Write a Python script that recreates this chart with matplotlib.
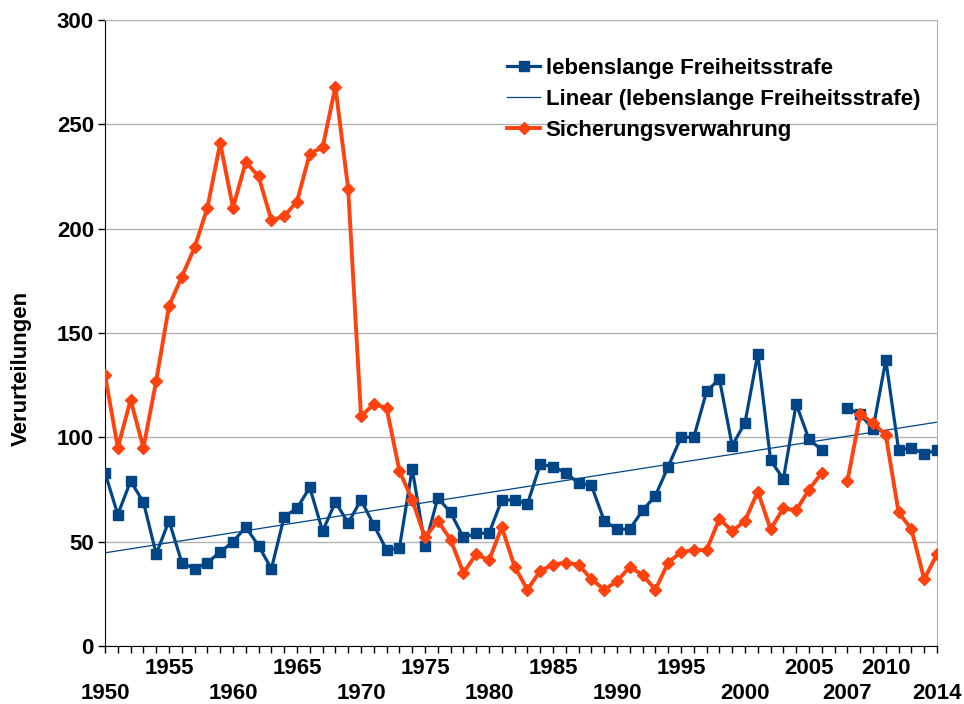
import numpy as np
import matplotlib
matplotlib.use('Agg')
import matplotlib.pyplot as plt

plt.rcParams['font.family'] = ['Liberation Sans', 'DejaVu Sans']
plt.rcParams['font.weight'] = 'bold'

# Kategorien: 1950..2006, eine leere Kategorie, 2007..2014
years = [str(y) for y in range(1950, 2007)] + [''] + [str(y) for y in range(2007, 2015)]

lebenslang = [83, 63, 79, 69, 44, 60, 40, 37, 40, 45,
              50, 57, 48, 37, 62, 66, 76, 55, 69, 59,
              70, 58, 46, 47, 85, 48, 71, 64, 52, 54,
              54, 70, 70, 68, 87, 86, 83, 78, 77, 60,
              56, 56, 65, 72, 86, 100, 100, 122, 128, 96,
              107, 140, 89, 80, 116, 99, 94,
              np.nan,
              114, 111, 104, 137, 94, 95, 92, 94]

sicherung = [130, 95, 118, 95, 127, 163, 177, 191, 210, 241,
             210, 232, 225, 204, 206, 213, 236, 239, 268, 219,
             110, 116, 114, 84, 70, 52, 60, 51, 35, 44,
             41, 57, 38, 27, 36, 39, 40, 39, 32, 27,
             31, 38, 34, 27, 40, 45, 46, 46, 61, 55,
             60, 74, 56, 66, 65, 75, 83,
             np.nan,
             79, 111, 107, 101, 64, 56, 32, 44]

# obere Reihe / untere Reihe der Achsenbeschriftung
labels_top = ['1955', '1965', '1975', '1985', '1995', '2005', '2010']
labels_bottom = ['1950', '1960', '1970', '1980', '1990', '2000', '2007', '2014']

blue = '#004586'
orange = '#ff420e'

x = np.arange(len(years))
y1 = np.array(lebenslang, dtype=float)
y2 = np.array(sicherung, dtype=float)

fig = plt.figure(figsize=(9.64, 7.04), dpi=100)
ax = fig.add_axes([105 / 964, 58 / 704, 832 / 964, 626 / 704])

ax.plot(x, y1, color=blue, lw=2.3, marker='s', markersize=7.8,
        label='lebenslange Freiheitsstrafe', zorder=3)

# lineare Trendlinie
ok = ~np.isnan(y1)
k, d = np.polyfit(x[ok], y1[ok], 1)
ax.plot(x, k * x + d, color=blue, lw=0.9,
        label='Linear (lebenslange Freiheitsstrafe)', zorder=2)

ax.plot(x, y2, color=orange, lw=2.8, marker='D', markersize=5.8,
        label='Sicherungsverwahrung', zorder=4)

ax.set_xlim(0, len(years) - 1)
ax.set_ylim(0, 300)
ax.set_yticks(range(0, 301, 50))
ax.grid(axis='y', color='#b3b3b3', lw=1)
ax.set_axisbelow(True)

top_pos = [years.index(l) for l in labels_top]
other_pos = [i for i in x if i not in top_pos]
other_lab = [years[i] if years[i] in labels_bottom else '' for i in other_pos]
ax.set_xticks(top_pos, labels_top)
ax.set_xticks(other_pos, other_lab, minor=True)
ax.tick_params(axis='x', which='both', length=5, width=1, labelsize=16)
ax.tick_params(axis='x', which='major', pad=4)
ax.tick_params(axis='x', which='minor', pad=21.3)
ax.tick_params(axis='y', length=5, width=1, labelsize=16, pad=3)
for t in ax.get_xticklabels(which='both') + ax.get_yticklabels():
    t.set_fontweight('bold')

for s in ['top', 'right']:
    ax.spines[s].set_color('#b3b3b3')
for s in ['left', 'bottom']:
    ax.spines[s].set_color('black')

ax.set_ylabel('Verurteilungen', fontsize=16, fontweight='bold')
ax.yaxis.set_label_coords(-0.088, 0.444)

ax.legend(loc='upper left', bbox_to_anchor=(0.483, 0.939), frameon=False,
          prop={'size': 16, 'weight': 'bold'}, handlelength=1.5,
          handletextpad=0.25, labelspacing=0.45, borderpad=0, borderaxespad=0)

fig.savefig('out.png', dpi=100)
